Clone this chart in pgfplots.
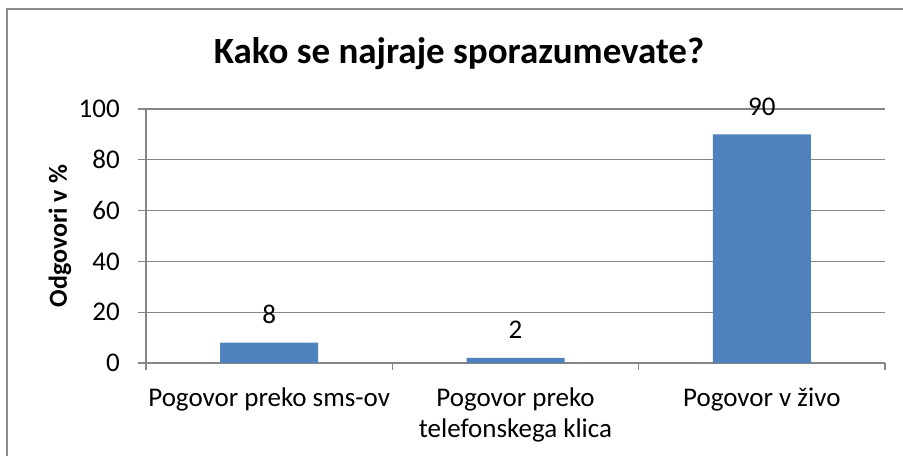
\documentclass[border=0pt]{standalone}
\usepackage{pgfplots}
\pgfplotsset{compat=1.18}
\usepackage{fontspec}
\setmainfont{Carlito}

\definecolor{barblue}{HTML}{4F81BD}
\definecolor{gridgray}{HTML}{868686}
\definecolor{framegray}{HTML}{8C8C8C}

\begin{document}
\begin{tikzpicture}[x=1pt,y=1pt]
\useasboundingbox (0,0) rectangle (903,456);
% chart frame (only top and left edges are visible in the crop)
\draw[framegray, line width=2pt] (7,0) -- (7,447) -- (903,447);
\node[anchor=base, font=\fontsize{37}{44}\selectfont\bfseries] at (459,392)
    {Kako se najraje sporazumevate?};

\begin{axis}[
    at={(146pt,93pt)}, anchor=south west,
    scale only axis,
    width=739pt, height=254pt,
    ybar, bar width=98pt,
    xmin=-0.5, xmax=2.5,
    ymin=0, ymax=100,
    ytick={0,20,40,60,80,100},
    xtick={0,1,2},
    xticklabels={Pogovor preko sms-ov,{Pogovor preko\\telefonskega klica},Pogovor v živo},
    minor xtick={-0.5,0.5,1.5,2.5},
    major x tick style={draw=none},
    minor tick length=7pt,
    major tick length=8pt,
    tick align=outside,
    axis lines*=left,
    axis line style={gridgray, line width=1.2pt, -},
    tick style={gridgray, line width=1.2pt},
    ymajorgrids=true,
    grid style={gridgray, line width=1.2pt},
    /pgf/number format/assume math mode=true,
    ticklabel style={font=\fontsize{27}{31}\selectfont},
    yticklabel style={anchor=east, inner sep=0pt, xshift=-18pt},
    xticklabel style={anchor=north, inner sep=0pt, align=center, yshift=-17pt},
    ylabel={Odgovori v \%},
    every axis y label/.style={at={(axis description cs:0,0.5)}, rotate=90,
        anchor=center, yshift=86pt, font=\fontsize{26}{30}\selectfont\bfseries},
    nodes near coords,
    every node near coord/.append style={font=\fontsize{27}{30}\selectfont,
        inner sep=0pt, anchor=south, yshift=19pt},
    clip=false,
]
\addplot[fill=barblue, draw=none] coordinates {(0,8) (1,2) (2,90)};
\end{axis}
\end{tikzpicture}
\end{document}
